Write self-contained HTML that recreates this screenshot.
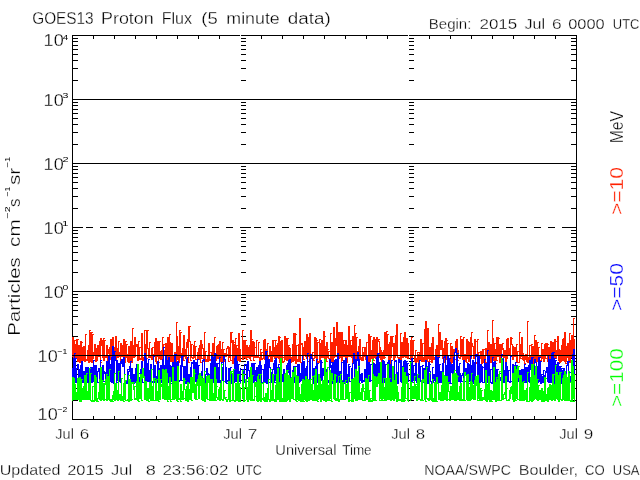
<!DOCTYPE html>
<html><head><meta charset="utf-8"><style>
html,body{margin:0;padding:0;background:#fff;}
.t{stroke:#fff;stroke-width:0.3px;}
svg{display:block;}
text{font-family:"Liberation Sans",sans-serif;}
</style></head><body>
<svg width="640" height="480" viewBox="0 0 640 480">
<rect width="640" height="480" fill="#fff"/>
<path fill="#000" shape-rendering="crispEdges" d="M72 35H577v1H72zM72 419H577v1H72zM72 35h1V420h-1zM576 35h1V420h-1zM73 80H78v1H73zM571 80H576v1H571zM241 80H246v1H241zM409 80H414v1H409zM73 68H78v1H73zM571 68H576v1H571zM241 68H246v1H241zM409 68H414v1H409zM73 60H78v1H73zM571 60H576v1H571zM241 60H246v1H241zM409 60H414v1H409zM73 54H78v1H73zM571 54H576v1H571zM241 54H246v1H241zM409 54H414v1H409zM73 49H78v1H73zM571 49H576v1H571zM241 49H246v1H241zM409 49H414v1H409zM73 45H78v1H73zM571 45H576v1H571zM241 45H246v1H241zM409 45H414v1H409zM73 41H78v1H73zM571 41H576v1H571zM241 41H246v1H241zM409 41H414v1H409zM73 38H78v1H73zM571 38H576v1H571zM241 38H246v1H241zM409 38H414v1H409zM73 144H78v1H73zM571 144H576v1H571zM241 144H246v1H241zM409 144H414v1H409zM73 132H78v1H73zM571 132H576v1H571zM241 132H246v1H241zM409 132H414v1H409zM73 124H78v1H73zM571 124H576v1H571zM241 124H246v1H241zM409 124H414v1H409zM73 118H78v1H73zM571 118H576v1H571zM241 118H246v1H241zM409 118H414v1H409zM73 113H78v1H73zM571 113H576v1H571zM241 113H246v1H241zM409 113H414v1H409zM73 109H78v1H73zM571 109H576v1H571zM241 109H246v1H241zM409 109H414v1H409zM73 105H78v1H73zM571 105H576v1H571zM241 105H246v1H241zM409 105H414v1H409zM73 102H78v1H73zM571 102H576v1H571zM241 102H246v1H241zM409 102H414v1H409zM73 99H83v1H73zM566 99H576v1H566zM241 99H251v1H241zM409 99H419v1H409zM73 208H78v1H73zM571 208H576v1H571zM241 208H246v1H241zM409 208H414v1H409zM73 196H78v1H73zM571 196H576v1H571zM241 196H246v1H241zM409 196H414v1H409zM73 188H78v1H73zM571 188H576v1H571zM241 188H246v1H241zM409 188H414v1H409zM73 182H78v1H73zM571 182H576v1H571zM241 182H246v1H241zM409 182H414v1H409zM73 177H78v1H73zM571 177H576v1H571zM241 177H246v1H241zM409 177H414v1H409zM73 173H78v1H73zM571 173H576v1H571zM241 173H246v1H241zM409 173H414v1H409zM73 169H78v1H73zM571 169H576v1H571zM241 169H246v1H241zM409 169H414v1H409zM73 166H78v1H73zM571 166H576v1H571zM241 166H246v1H241zM409 166H414v1H409zM73 163H83v1H73zM566 163H576v1H566zM241 163H251v1H241zM409 163H419v1H409zM73 272H78v1H73zM571 272H576v1H571zM241 272H246v1H241zM409 272H414v1H409zM73 260H78v1H73zM571 260H576v1H571zM241 260H246v1H241zM409 260H414v1H409zM73 252H78v1H73zM571 252H576v1H571zM241 252H246v1H241zM409 252H414v1H409zM73 246H78v1H73zM571 246H576v1H571zM241 246H246v1H241zM409 246H414v1H409zM73 241H78v1H73zM571 241H576v1H571zM241 241H246v1H241zM409 241H414v1H409zM73 237H78v1H73zM571 237H576v1H571zM241 237H246v1H241zM409 237H414v1H409zM73 233H78v1H73zM571 233H576v1H571zM241 233H246v1H241zM409 233H414v1H409zM73 230H78v1H73zM571 230H576v1H571zM241 230H246v1H241zM409 230H414v1H409zM73 227H83v1H73zM566 227H576v1H566zM241 227H251v1H241zM409 227H419v1H409zM73 336H78v1H73zM571 336H576v1H571zM241 336H246v1H241zM409 336H414v1H409zM73 324H78v1H73zM571 324H576v1H571zM241 324H246v1H241zM409 324H414v1H409zM73 316H78v1H73zM571 316H576v1H571zM241 316H246v1H241zM409 316H414v1H409zM73 310H78v1H73zM571 310H576v1H571zM241 310H246v1H241zM409 310H414v1H409zM73 305H78v1H73zM571 305H576v1H571zM241 305H246v1H241zM409 305H414v1H409zM73 301H78v1H73zM571 301H576v1H571zM241 301H246v1H241zM409 301H414v1H409zM73 297H78v1H73zM571 297H576v1H571zM241 297H246v1H241zM409 297H414v1H409zM73 294H78v1H73zM571 294H576v1H571zM241 294H246v1H241zM409 294H414v1H409zM73 291H83v1H73zM566 291H576v1H566zM241 291H251v1H241zM409 291H419v1H409zM73 400H78v1H73zM571 400H576v1H571zM241 400H246v1H241zM409 400H414v1H409zM73 388H78v1H73zM571 388H576v1H571zM241 388H246v1H241zM409 388H414v1H409zM73 380H78v1H73zM571 380H576v1H571zM241 380H246v1H241zM409 380H414v1H409zM73 374H78v1H73zM571 374H576v1H571zM241 374H246v1H241zM409 374H414v1H409zM73 369H78v1H73zM571 369H576v1H571zM241 369H246v1H241zM409 369H414v1H409zM73 365H78v1H73zM571 365H576v1H571zM241 365H246v1H241zM409 365H414v1H409zM73 361H78v1H73zM571 361H576v1H571zM241 361H246v1H241zM409 361H414v1H409zM73 358H78v1H73zM571 358H576v1H571zM241 358H246v1H241zM409 358H414v1H409zM73 355H83v1H73zM566 355H576v1H566zM241 355H251v1H241zM409 355H419v1H409zM93 36h1V39h-1zM93 416h1V419h-1zM114 36h1V39h-1zM114 416h1V419h-1zM135 36h1V39h-1zM135 416h1V419h-1zM156 36h1V39h-1zM156 416h1V419h-1zM177 36h1V39h-1zM177 416h1V419h-1zM198 36h1V39h-1zM198 416h1V419h-1zM219 36h1V39h-1zM219 416h1V419h-1zM261 36h1V39h-1zM261 416h1V419h-1zM282 36h1V39h-1zM282 416h1V419h-1zM303 36h1V39h-1zM303 416h1V419h-1zM324 36h1V39h-1zM324 416h1V419h-1zM345 36h1V39h-1zM345 416h1V419h-1zM366 36h1V39h-1zM366 416h1V419h-1zM387 36h1V39h-1zM387 416h1V419h-1zM429 36h1V39h-1zM429 416h1V419h-1zM450 36h1V39h-1zM450 416h1V419h-1zM471 36h1V39h-1zM471 416h1V419h-1zM492 36h1V39h-1zM492 416h1V419h-1zM513 36h1V39h-1zM513 416h1V419h-1zM534 36h1V39h-1zM534 416h1V419h-1zM555 36h1V39h-1zM555 416h1V419h-1z"/>
<g shape-rendering="crispEdges">
<path fill="#ff2000" d="M72 337h1v20h-1zM73 337h1v27h-1zM74 340h1v24h-1zM75 340h1v1h-1zM75 344h1v15h-1zM76 339h1v19h-1zM77 339h1v23h-1zM78 339h1v1h-1zM78 345h1v17h-1zM79 345h1v18h-1zM80 341h1v22h-1zM81 341h1v21h-1zM82 342h1v1h-1zM82 347h1v15h-1zM83 346h1v15h-1zM84 346h1v16h-1zM85 334h1v28h-1zM86 334h1v1h-1zM86 359h1v2h-1zM87 350h1v11h-1zM88 345h1v18h-1zM89 330h1v33h-1zM90 330h1v1h-1zM90 332h1v30h-1zM91 332h1v31h-1zM92 332h1v1h-1zM92 334h1v29h-1zM93 334h1v1h-1zM93 352h1v7h-1zM94 344h1v12h-1zM95 344h1v18h-1zM96 348h1v14h-1zM97 345h1v16h-1zM98 345h1v12h-1zM99 341h1v16h-1zM100 338h1v25h-1zM101 338h1v8h-1zM101 362h1v1h-1zM102 340h1v18h-1zM103 338h1v23h-1zM104 338h1v1h-1zM104 340h1v21h-1zM105 340h1v1h-1zM105 356h1v2h-1zM106 345h1v13h-1zM107 345h1v16h-1zM108 349h1v5h-1zM108 360h1v1h-1zM109 347h1v12h-1zM110 339h1v21h-1zM111 339h1v23h-1zM112 337h1v19h-1zM112 361h1v1h-1zM113 337h1v23h-1zM114 347h1v13h-1zM115 336h1v20h-1zM115 359h1v1h-1zM116 336h1v25h-1zM117 348h1v10h-1zM117 360h1v1h-1zM118 341h1v17h-1zM119 341h1v1h-1zM119 352h1v5h-1zM120 343h1v19h-1zM121 343h1v14h-1zM121 361h1v1h-1zM122 345h1v12h-1zM123 339h1v21h-1zM124 339h1v24h-1zM125 341h1v22h-1zM126 341h1v1h-1zM126 344h1v14h-1zM127 344h1v1h-1zM127 354h1v8h-1zM128 346h1v17h-1zM129 346h1v17h-1zM130 341h1v20h-1zM131 341h1v22h-1zM132 328h1v35h-1zM133 328h1v1h-1zM133 345h1v13h-1zM134 337h1v21h-1zM135 337h1v20h-1zM136 344h1v3h-1zM136 355h1v1h-1zM137 344h1v17h-1zM138 341h1v20h-1zM139 341h1v1h-1zM139 347h1v13h-1zM140 347h1v1h-1zM140 358h1v2h-1zM141 333h1v27h-1zM142 333h1v28h-1zM143 357h1v4h-1zM144 330h1v31h-1zM145 330h1v1h-1zM145 344h1v17h-1zM146 330h1v30h-1zM147 330h1v19h-1zM147 358h1v1h-1zM148 330h1v1h-1zM148 348h1v10h-1zM149 342h1v16h-1zM150 342h1v1h-1zM150 355h1v3h-1zM151 348h1v12h-1zM152 347h1v13h-1zM153 347h1v1h-1zM153 354h1v4h-1zM154 342h1v15h-1zM155 338h1v24h-1zM156 338h1v26h-1zM157 341h1v16h-1zM157 363h1v1h-1zM158 341h1v22h-1zM159 341h1v18h-1zM159 362h1v1h-1zM160 341h1v1h-1zM160 351h1v9h-1zM161 350h1v10h-1zM162 337h1v25h-1zM163 337h1v1h-1zM163 344h1v18h-1zM164 344h1v1h-1zM164 350h1v6h-1zM165 343h1v18h-1zM166 343h1v19h-1zM167 337h1v25h-1zM168 337h1v20h-1zM168 360h1v1h-1zM169 334h1v23h-1zM170 334h1v1h-1zM170 342h1v20h-1zM171 343h1v19h-1zM172 343h1v20h-1zM173 356h1v7h-1zM174 352h1v11h-1zM175 352h1v11h-1zM176 322h1v41h-1zM177 322h1v1h-1zM177 336h1v24h-1zM178 346h1v17h-1zM179 330h1v33h-1zM180 330h1v1h-1zM180 332h1v26h-1zM181 332h1v1h-1zM181 353h1v8h-1zM182 348h1v13h-1zM183 335h1v26h-1zM184 335h1v22h-1zM184 360h1v1h-1zM185 349h1v10h-1zM186 342h1v17h-1zM187 339h1v9h-1zM188 326h1v37h-1zM189 326h1v16h-1zM189 362h1v1h-1zM190 326h1v1h-1zM190 341h1v20h-1zM191 344h1v14h-1zM191 360h1v1h-1zM192 344h1v1h-1zM192 357h1v2h-1zM193 345h1v14h-1zM194 341h1v17h-1zM195 341h1v1h-1zM195 346h1v14h-1zM196 346h1v1h-1zM196 359h1v1h-1zM197 352h1v8h-1zM198 348h1v12h-1zM199 345h1v15h-1zM200 340h1v23h-1zM201 340h1v19h-1zM201 362h1v1h-1zM202 344h1v5h-1zM202 358h1v1h-1zM203 348h1v14h-1zM204 332h1v30h-1zM205 332h1v1h-1zM205 351h1v11h-1zM206 351h1v1h-1zM206 359h1v3h-1zM207 356h1v6h-1zM208 343h1v19h-1zM209 343h1v18h-1zM210 352h1v1h-1zM210 359h1v2h-1zM211 352h1v9h-1zM212 343h1v20h-1zM213 343h1v15h-1zM213 362h1v1h-1zM214 337h1v23h-1zM215 337h1v1h-1zM215 353h1v8h-1zM216 346h1v15h-1zM217 345h1v14h-1zM218 344h1v15h-1zM219 341h1v17h-1zM220 341h1v21h-1zM221 349h1v13h-1zM222 342h1v21h-1zM223 342h1v1h-1zM223 349h1v14h-1zM224 349h1v1h-1zM224 353h1v9h-1zM225 353h1v4h-1zM225 361h1v1h-1zM226 348h1v9h-1zM227 346h1v3h-1zM227 354h1v1h-1zM228 346h1v16h-1zM229 347h1v11h-1zM229 361h1v1h-1zM230 332h1v29h-1zM231 332h1v11h-1zM231 360h1v1h-1zM232 332h1v1h-1zM232 340h1v24h-1zM233 340h1v24h-1zM234 342h1v1h-1zM234 344h1v20h-1zM235 338h1v25h-1zM236 338h1v1h-1zM236 345h1v18h-1zM237 345h1v1h-1zM237 348h1v13h-1zM238 333h1v28h-1zM239 333h1v29h-1zM240 349h1v13h-1zM242 330h1v30h-1zM243 330h1v1h-1zM243 340h1v20h-1zM244 340h1v18h-1zM245 340h1v19h-1zM246 340h1v1h-1zM246 345h1v15h-1zM247 345h1v13h-1zM247 359h1v1h-1zM248 347h1v11h-1zM249 345h1v14h-1zM250 330h1v31h-1zM251 330h1v27h-1zM251 360h1v1h-1zM252 339h1v1h-1zM252 341h1v16h-1zM253 341h1v20h-1zM254 342h1v16h-1zM254 360h1v1h-1zM255 347h1v1h-1zM255 355h1v3h-1zM256 340h1v18h-1zM257 340h1v1h-1zM257 356h1v2h-1zM258 342h1v16h-1zM259 342h1v1h-1zM259 357h1v7h-1zM260 349h1v15h-1zM261 349h1v1h-1zM261 352h1v8h-1zM262 352h1v1h-1zM262 358h1v2h-1zM263 340h1v19h-1zM264 339h1v21h-1zM265 339h1v21h-1zM266 349h1v13h-1zM267 343h1v20h-1zM268 343h1v1h-1zM268 356h1v7h-1zM269 346h1v11h-1zM269 359h1v1h-1zM270 346h1v16h-1zM271 351h1v11h-1zM272 340h1v22h-1zM273 340h1v17h-1zM274 340h1v1h-1zM274 347h1v12h-1zM275 340h1v19h-1zM276 340h1v1h-1zM276 345h1v13h-1zM277 343h1v15h-1zM278 336h1v23h-1zM279 336h1v27h-1zM280 337h1v1h-1zM280 341h1v22h-1zM281 340h1v21h-1zM281 362h1v1h-1zM282 340h1v23h-1zM283 357h1v1h-1zM283 361h1v2h-1zM284 336h1v26h-1zM285 336h1v24h-1zM286 338h1v23h-1zM287 338h1v23h-1zM288 338h1v1h-1zM288 345h1v15h-1zM289 345h1v1h-1zM289 347h1v14h-1zM290 348h1v15h-1zM291 357h1v6h-1zM292 344h1v18h-1zM293 333h1v29h-1zM294 333h1v28h-1zM295 333h1v31h-1zM296 334h1v1h-1zM296 345h1v19h-1zM297 345h1v1h-1zM297 359h1v3h-1zM298 344h1v18h-1zM299 318h1v44h-1zM300 318h1v45h-1zM301 343h1v2h-1zM301 362h1v1h-1zM302 343h1v12h-1zM303 347h1v13h-1zM304 341h1v15h-1zM304 359h1v1h-1zM305 341h1v16h-1zM306 334h1v25h-1zM307 334h1v28h-1zM308 337h1v20h-1zM308 361h1v1h-1zM309 333h1v30h-1zM310 333h1v25h-1zM310 362h1v1h-1zM311 356h1v2h-1zM312 352h1v7h-1zM313 352h1v1h-1zM313 358h1v3h-1zM314 337h1v22h-1zM314 360h1v1h-1zM315 337h1v21h-1zM316 338h1v26h-1zM317 340h1v1h-1zM317 342h1v22h-1zM318 342h1v1h-1zM318 361h1v2h-1zM319 339h1v24h-1zM320 339h1v1h-1zM320 343h1v21h-1zM321 340h1v18h-1zM321 363h1v1h-1zM322 340h1v18h-1zM323 331h1v27h-1zM324 331h1v31h-1zM325 336h1v1h-1zM325 346h1v16h-1zM326 342h1v20h-1zM327 342h1v16h-1zM327 361h1v1h-1zM328 349h1v1h-1zM328 351h1v8h-1zM329 351h1v1h-1zM329 358h1v4h-1zM330 333h1v29h-1zM331 333h1v1h-1zM331 342h1v20h-1zM332 342h1v21h-1zM333 327h1v36h-1zM334 327h1v31h-1zM335 338h1v19h-1zM336 322h1v24h-1zM336 356h1v1h-1zM337 322h1v39h-1zM338 332h1v29h-1zM339 332h1v27h-1zM340 332h1v26h-1zM341 332h1v31h-1zM342 332h1v29h-1zM342 362h1v1h-1zM343 340h1v17h-1zM343 360h1v1h-1zM344 340h1v1h-1zM344 344h1v13h-1zM345 340h1v19h-1zM346 340h1v23h-1zM347 345h1v18h-1zM348 326h1v31h-1zM349 326h1v31h-1zM350 340h1v17h-1zM351 340h1v1h-1zM351 345h1v13h-1zM352 336h1v27h-1zM353 336h1v25h-1zM353 362h1v1h-1zM354 325h1v36h-1zM355 325h1v1h-1zM355 333h1v30h-1zM356 333h1v1h-1zM356 337h1v26h-1zM357 337h1v1h-1zM357 351h1v10h-1zM358 346h1v16h-1zM359 339h1v23h-1zM360 339h1v21h-1zM361 357h1v4h-1zM362 347h1v14h-1zM363 347h1v1h-1zM363 352h1v9h-1zM364 347h1v10h-1zM365 347h1v13h-1zM366 342h1v19h-1zM367 342h1v1h-1zM367 360h1v3h-1zM368 334h1v29h-1zM369 334h1v28h-1zM370 336h1v26h-1zM371 336h1v1h-1zM371 350h1v9h-1zM372 340h1v23h-1zM373 337h1v24h-1zM373 362h1v1h-1zM374 337h1v21h-1zM374 360h1v1h-1zM375 339h1v20h-1zM376 337h1v27h-1zM377 337h1v23h-1zM377 363h1v1h-1zM378 339h1v3h-1zM378 359h1v1h-1zM379 339h1v1h-1zM379 341h1v17h-1zM380 347h1v13h-1zM381 350h1v13h-1zM382 352h1v11h-1zM383 350h1v9h-1zM384 332h1v27h-1zM385 332h1v24h-1zM385 357h1v1h-1zM386 331h1v25h-1zM387 331h1v1h-1zM387 334h1v22h-1zM388 334h1v1h-1zM388 344h1v20h-1zM389 342h1v22h-1zM390 336h1v28h-1zM391 336h1v22h-1zM392 336h1v11h-1zM393 336h1v1h-1zM393 343h1v17h-1zM394 343h1v19h-1zM395 335h1v23h-1zM395 361h1v1h-1zM396 324h1v32h-1zM397 324h1v34h-1zM398 357h1v6h-1zM399 357h1v4h-1zM399 362h1v1h-1zM400 333h1v28h-1zM401 333h1v1h-1zM401 342h1v18h-1zM402 342h1v16h-1zM403 337h1v21h-1zM404 332h1v25h-1zM405 332h1v26h-1zM406 338h1v20h-1zM407 338h1v21h-1zM408 343h1v16h-1zM410 340h1v20h-1zM411 337h1v24h-1zM412 337h1v1h-1zM412 340h1v21h-1zM413 340h1v16h-1zM414 340h1v1h-1zM414 355h1v7h-1zM415 350h1v14h-1zM416 350h1v1h-1zM416 358h1v6h-1zM417 352h1v10h-1zM418 352h1v1h-1zM418 354h1v9h-1zM419 352h1v8h-1zM419 362h1v1h-1zM420 339h1v21h-1zM421 339h1v23h-1zM422 343h1v19h-1zM423 343h1v1h-1zM423 357h1v5h-1zM424 329h1v33h-1zM425 321h1v41h-1zM426 321h1v41h-1zM427 328h1v34h-1zM428 328h1v31h-1zM428 361h1v1h-1zM429 347h1v15h-1zM430 347h1v13h-1zM430 361h1v1h-1zM431 343h1v20h-1zM432 337h1v26h-1zM433 337h1v23h-1zM434 357h1v3h-1zM435 349h1v11h-1zM436 345h1v13h-1zM437 345h1v18h-1zM438 324h1v39h-1zM439 324h1v1h-1zM439 332h1v25h-1zM440 332h1v18h-1zM441 340h1v10h-1zM442 340h1v19h-1zM443 348h1v15h-1zM444 341h1v22h-1zM445 338h1v20h-1zM446 338h1v22h-1zM447 340h1v1h-1zM447 343h1v17h-1zM448 343h1v1h-1zM448 355h1v4h-1zM449 355h1v1h-1zM449 358h1v5h-1zM450 343h1v21h-1zM451 343h1v1h-1zM451 346h1v18h-1zM452 346h1v17h-1zM453 349h1v12h-1zM453 362h1v1h-1zM454 349h1v12h-1zM455 341h1v12h-1zM455 359h1v1h-1zM456 339h1v21h-1zM457 339h1v22h-1zM458 350h1v8h-1zM458 360h1v1h-1zM459 357h1v2h-1zM460 336h1v23h-1zM461 336h1v1h-1zM461 339h1v18h-1zM462 339h1v21h-1zM463 337h1v23h-1zM464 337h1v1h-1zM464 354h1v8h-1zM465 354h1v1h-1zM465 356h1v6h-1zM466 339h1v24h-1zM467 339h1v20h-1zM467 362h1v1h-1zM468 341h1v21h-1zM469 342h1v20h-1zM470 337h1v25h-1zM471 332h1v27h-1zM472 332h1v1h-1zM472 343h1v4h-1zM473 346h1v13h-1zM474 339h1v20h-1zM475 339h1v25h-1zM476 341h1v1h-1zM476 362h1v2h-1zM477 339h1v25h-1zM478 339h1v1h-1zM478 352h1v6h-1zM479 352h1v1h-1zM479 356h1v3h-1zM480 351h1v8h-1zM481 351h1v13h-1zM482 349h1v15h-1zM483 349h1v14h-1zM484 349h1v1h-1zM484 355h1v7h-1zM485 348h1v15h-1zM486 348h1v8h-1zM486 362h1v1h-1zM487 330h1v27h-1zM488 330h1v1h-1zM488 342h1v16h-1zM489 342h1v21h-1zM490 344h1v19h-1zM491 344h1v19h-1zM492 320h1v37h-1zM492 361h1v1h-1zM493 320h1v1h-1zM493 338h1v23h-1zM494 343h1v18h-1zM495 343h1v1h-1zM495 349h1v15h-1zM496 337h1v24h-1zM496 363h1v1h-1zM497 337h1v20h-1zM497 360h1v1h-1zM498 337h1v20h-1zM499 338h1v1h-1zM499 344h1v19h-1zM500 344h1v19h-1zM501 344h1v13h-1zM502 343h1v7h-1zM502 356h1v1h-1zM503 343h1v1h-1zM503 348h1v10h-1zM504 350h1v8h-1zM505 350h1v13h-1zM506 339h1v24h-1zM507 338h1v21h-1zM508 338h1v18h-1zM509 348h1v8h-1zM510 337h1v19h-1zM511 337h1v8h-1zM512 338h1v1h-1zM512 344h1v16h-1zM513 346h1v14h-1zM514 347h1v10h-1zM515 347h1v10h-1zM516 344h1v19h-1zM517 344h1v1h-1zM517 351h1v12h-1zM518 351h1v1h-1zM518 362h1v1h-1zM519 332h1v31h-1zM520 332h1v1h-1zM520 344h1v15h-1zM521 337h1v20h-1zM521 358h1v1h-1zM522 337h1v23h-1zM523 353h1v8h-1zM524 356h1v8h-1zM525 354h1v6h-1zM525 363h1v1h-1zM526 354h1v8h-1zM527 321h1v42h-1zM528 321h1v1h-1zM528 357h1v6h-1zM529 345h1v18h-1zM530 345h1v1h-1zM530 356h1v7h-1zM531 344h1v19h-1zM532 344h1v1h-1zM532 346h1v16h-1zM533 346h1v18h-1zM534 335h1v24h-1zM534 363h1v1h-1zM535 335h1v1h-1zM535 340h1v19h-1zM536 340h1v22h-1zM537 342h1v20h-1zM538 342h1v1h-1zM538 347h1v11h-1zM539 347h1v1h-1zM539 356h1v5h-1zM540 356h1v1h-1zM540 360h1v1h-1zM541 343h1v18h-1zM542 343h1v1h-1zM542 349h1v10h-1zM543 349h1v13h-1zM544 344h1v18h-1zM545 343h1v16h-1zM546 343h1v13h-1zM546 358h1v1h-1zM547 343h1v19h-1zM548 344h1v1h-1zM548 347h1v16h-1zM549 347h1v16h-1zM550 341h1v21h-1zM551 341h1v18h-1zM551 361h1v1h-1zM552 342h1v17h-1zM553 342h1v21h-1zM554 339h1v24h-1zM555 339h1v20h-1zM556 341h1v1h-1zM556 350h1v9h-1zM557 336h1v20h-1zM558 336h1v25h-1zM559 349h1v14h-1zM560 350h1v13h-1zM561 345h1v17h-1zM562 339h1v22h-1zM563 338h1v23h-1zM564 332h1v30h-1zM565 332h1v32h-1zM566 346h1v16h-1zM566 363h1v1h-1zM567 343h1v15h-1zM567 361h1v1h-1zM568 343h1v20h-1zM569 333h1v30h-1zM570 333h1v1h-1zM570 340h1v23h-1zM571 335h1v23h-1zM572 335h1v27h-1zM573 318h1v44h-1zM574 318h1v1h-1zM574 339h1v17h-1z"/>
<path fill="#0000ff" d="M72 368h1v14h-1zM73 358h1v24h-1zM74 353h1v29h-1zM75 353h1v1h-1zM75 358h1v25h-1zM76 358h1v1h-1zM76 368h1v15h-1zM77 364h1v5h-1zM77 380h1v1h-1zM78 364h1v19h-1zM79 369h1v14h-1zM80 365h1v18h-1zM81 361h1v20h-1zM82 361h1v22h-1zM83 371h1v12h-1zM84 371h1v12h-1zM85 367h1v16h-1zM86 367h1v16h-1zM87 367h1v16h-1zM88 367h1v16h-1zM89 370h1v1h-1zM89 376h1v8h-1zM90 367h1v17h-1zM91 367h1v16h-1zM92 367h1v16h-1zM93 360h1v22h-1zM94 360h1v1h-1zM94 365h1v14h-1zM95 365h1v18h-1zM96 365h1v18h-1zM97 371h1v12h-1zM98 368h1v4h-1zM98 382h1v1h-1zM99 368h1v13h-1zM100 360h1v23h-1zM101 360h1v1h-1zM101 369h1v14h-1zM102 365h1v17h-1zM103 365h1v17h-1zM104 371h1v3h-1zM104 381h1v1h-1zM105 372h1v9h-1zM106 361h1v20h-1zM107 361h1v20h-1zM108 356h1v25h-1zM109 356h1v26h-1zM110 364h1v18h-1zM111 357h1v26h-1zM112 346h1v37h-1zM113 346h1v38h-1zM114 351h1v33h-1zM115 351h1v1h-1zM115 356h1v5h-1zM116 360h1v23h-1zM117 360h1v21h-1zM117 382h1v1h-1zM118 363h1v19h-1zM119 363h1v19h-1zM120 361h1v22h-1zM121 359h1v5h-1zM121 382h1v1h-1zM122 359h1v8h-1zM123 357h1v10h-1zM124 357h1v26h-1zM125 381h1v2h-1zM126 381h1v3h-1zM127 369h1v15h-1zM128 369h1v1h-1zM128 371h1v11h-1zM129 366h1v6h-1zM129 380h1v1h-1zM130 361h1v23h-1zM131 361h1v1h-1zM131 368h1v16h-1zM132 368h1v16h-1zM133 374h1v10h-1zM134 374h1v10h-1zM135 368h1v15h-1zM136 364h1v19h-1zM137 364h1v20h-1zM138 373h1v11h-1zM139 373h1v1h-1zM139 377h1v7h-1zM140 369h1v15h-1zM141 361h1v23h-1zM142 361h1v22h-1zM143 369h1v6h-1zM143 382h1v1h-1zM144 353h1v30h-1zM145 353h1v30h-1zM146 358h1v24h-1zM147 363h1v19h-1zM148 359h1v23h-1zM149 359h1v1h-1zM149 370h1v12h-1zM150 364h1v18h-1zM151 364h1v19h-1zM152 381h1v2h-1zM153 356h1v27h-1zM154 356h1v1h-1zM154 365h1v18h-1zM155 365h1v18h-1zM156 376h1v7h-1zM157 361h1v22h-1zM158 361h1v23h-1zM159 368h1v14h-1zM159 383h1v1h-1zM160 365h1v18h-1zM161 365h1v18h-1zM162 359h1v24h-1zM163 347h1v36h-1zM164 347h1v1h-1zM164 365h1v18h-1zM165 356h1v26h-1zM166 356h1v28h-1zM167 360h1v24h-1zM168 357h1v26h-1zM169 357h1v26h-1zM170 365h1v19h-1zM171 366h1v16h-1zM171 383h1v1h-1zM172 362h1v20h-1zM173 362h1v22h-1zM174 354h1v30h-1zM175 354h1v28h-1zM176 354h1v1h-1zM176 362h1v20h-1zM177 361h1v8h-1zM178 361h1v21h-1zM179 380h1v2h-1zM180 365h1v16h-1zM181 356h1v25h-1zM182 356h1v11h-1zM182 380h1v1h-1zM183 356h1v1h-1zM183 366h1v17h-1zM184 366h1v17h-1zM185 366h1v18h-1zM186 359h1v25h-1zM187 357h1v27h-1zM188 357h1v1h-1zM188 374h1v10h-1zM189 374h1v9h-1zM190 367h1v15h-1zM191 362h1v22h-1zM192 362h1v2h-1zM192 383h1v1h-1zM193 360h1v22h-1zM194 360h1v22h-1zM195 362h1v20h-1zM196 362h1v21h-1zM197 359h1v25h-1zM198 359h1v1h-1zM198 365h1v19h-1zM199 365h1v1h-1zM199 380h1v3h-1zM200 373h1v10h-1zM201 371h1v11h-1zM202 360h1v23h-1zM203 359h1v2h-1zM203 382h1v1h-1zM204 359h1v24h-1zM205 374h1v9h-1zM206 368h1v7h-1zM206 381h1v1h-1zM207 368h1v14h-1zM208 373h1v10h-1zM209 374h1v9h-1zM210 363h1v19h-1zM211 355h1v27h-1zM212 355h1v28h-1zM213 357h1v26h-1zM214 353h1v30h-1zM215 353h1v30h-1zM216 354h1v1h-1zM216 363h1v20h-1zM217 363h1v20h-1zM218 363h1v1h-1zM218 367h1v16h-1zM219 357h1v26h-1zM220 357h1v1h-1zM220 380h1v3h-1zM221 362h1v21h-1zM222 362h1v1h-1zM222 367h1v14h-1zM223 355h1v27h-1zM224 355h1v5h-1zM224 381h1v1h-1zM225 355h1v1h-1zM225 359h1v24h-1zM226 367h1v17h-1zM227 380h1v2h-1zM227 383h1v1h-1zM228 368h1v14h-1zM229 368h1v14h-1zM230 367h1v17h-1zM231 367h1v1h-1zM231 374h1v10h-1zM232 374h1v10h-1zM233 374h1v9h-1zM234 358h1v25h-1zM235 356h1v26h-1zM236 356h1v26h-1zM237 361h1v21h-1zM238 364h1v18h-1zM239 364h1v1h-1zM239 371h1v11h-1zM240 368h1v16h-1zM242 369h1v14h-1zM243 369h1v14h-1zM244 364h1v19h-1zM245 364h1v1h-1zM245 380h1v1h-1zM246 364h1v18h-1zM247 361h1v18h-1zM247 381h1v1h-1zM248 361h1v10h-1zM249 370h1v13h-1zM250 372h1v1h-1zM250 380h1v4h-1zM251 363h1v18h-1zM251 383h1v1h-1zM252 363h1v20h-1zM253 363h1v20h-1zM254 363h1v19h-1zM255 363h1v1h-1zM255 370h1v11h-1zM256 367h1v15h-1zM257 367h1v15h-1zM258 365h1v18h-1zM259 361h1v22h-1zM260 361h1v22h-1zM261 365h1v18h-1zM262 369h1v1h-1zM262 382h1v2h-1zM263 369h1v15h-1zM264 364h1v19h-1zM265 351h1v32h-1zM266 351h1v33h-1zM267 351h1v1h-1zM267 355h1v29h-1zM268 355h1v1h-1zM268 359h1v24h-1zM269 359h1v9h-1zM269 382h1v1h-1zM270 367h1v16h-1zM271 372h1v11h-1zM272 369h1v13h-1zM273 363h1v7h-1zM273 380h1v1h-1zM274 360h1v23h-1zM275 358h1v23h-1zM275 382h1v1h-1zM276 358h1v24h-1zM277 367h1v15h-1zM278 364h1v20h-1zM279 364h1v1h-1zM279 367h1v17h-1zM280 367h1v1h-1zM280 380h1v1h-1zM281 374h1v8h-1zM282 374h1v8h-1zM283 369h1v13h-1zM284 369h1v14h-1zM285 377h1v6h-1zM286 365h1v16h-1zM286 382h1v1h-1zM287 363h1v18h-1zM288 360h1v13h-1zM288 380h1v1h-1zM289 359h1v25h-1zM290 359h1v23h-1zM290 383h1v1h-1zM291 381h1v3h-1zM292 370h1v14h-1zM293 366h1v17h-1zM294 366h1v17h-1zM295 366h1v16h-1zM296 366h1v1h-1zM296 381h1v1h-1zM297 364h1v18h-1zM298 364h1v19h-1zM299 364h1v19h-1zM300 373h1v9h-1zM301 363h1v18h-1zM302 355h1v27h-1zM303 355h1v1h-1zM303 361h1v22h-1zM304 361h1v22h-1zM305 368h1v16h-1zM306 366h1v18h-1zM307 353h1v30h-1zM308 353h1v1h-1zM308 382h1v2h-1zM309 359h1v25h-1zM310 354h1v28h-1zM311 354h1v5h-1zM312 358h1v23h-1zM313 368h1v16h-1zM314 368h1v14h-1zM314 383h1v1h-1zM315 366h1v16h-1zM316 359h1v24h-1zM317 359h1v1h-1zM317 363h1v20h-1zM318 363h1v1h-1zM318 382h1v1h-1zM319 380h1v3h-1zM320 360h1v22h-1zM321 360h1v21h-1zM322 362h1v1h-1zM322 368h1v13h-1zM323 368h1v8h-1zM323 380h1v1h-1zM324 366h1v17h-1zM325 366h1v17h-1zM326 369h1v13h-1zM327 369h1v1h-1zM327 380h1v3h-1zM328 380h1v3h-1zM329 359h1v22h-1zM329 382h1v1h-1zM330 359h1v9h-1zM330 380h1v1h-1zM331 362h1v1h-1zM331 365h1v19h-1zM332 362h1v22h-1zM333 362h1v20h-1zM334 360h1v24h-1zM335 359h1v25h-1zM336 359h1v24h-1zM337 353h1v30h-1zM338 353h1v30h-1zM339 371h1v12h-1zM340 371h1v12h-1zM341 362h1v21h-1zM342 362h1v1h-1zM342 381h1v2h-1zM343 360h1v22h-1zM344 360h1v24h-1zM345 358h1v26h-1zM346 358h1v25h-1zM347 374h1v9h-1zM348 364h1v19h-1zM349 364h1v1h-1zM349 366h1v16h-1zM350 366h1v1h-1zM350 381h1v1h-1zM351 368h1v14h-1zM352 363h1v20h-1zM353 353h1v11h-1zM353 382h1v1h-1zM354 353h1v30h-1zM355 359h1v24h-1zM356 359h1v23h-1zM357 352h1v9h-1zM357 381h1v1h-1zM358 352h1v29h-1zM359 359h1v25h-1zM360 374h1v7h-1zM360 383h1v1h-1zM361 373h1v10h-1zM362 373h1v10h-1zM363 380h1v2h-1zM364 369h1v13h-1zM365 369h1v13h-1zM366 355h1v28h-1zM367 355h1v26h-1zM367 382h1v1h-1zM368 362h1v19h-1zM369 362h1v20h-1zM370 364h1v18h-1zM371 364h1v1h-1zM371 380h1v1h-1zM372 380h1v2h-1zM373 363h1v19h-1zM374 363h1v19h-1zM375 364h1v20h-1zM376 357h1v27h-1zM377 353h1v28h-1zM377 383h1v1h-1zM378 353h1v30h-1zM379 353h1v1h-1zM379 362h1v21h-1zM380 362h1v1h-1zM380 365h1v19h-1zM381 365h1v1h-1zM381 368h1v16h-1zM382 360h1v24h-1zM383 360h1v24h-1zM384 361h1v22h-1zM385 364h1v20h-1zM386 364h1v1h-1zM386 381h1v3h-1zM387 362h1v22h-1zM388 360h1v23h-1zM389 360h1v24h-1zM390 364h1v20h-1zM391 360h1v24h-1zM392 360h1v1h-1zM392 380h1v4h-1zM393 380h1v4h-1zM394 361h1v21h-1zM394 383h1v1h-1zM395 360h1v2h-1zM395 381h1v1h-1zM396 360h1v23h-1zM397 372h1v12h-1zM398 359h1v25h-1zM399 359h1v4h-1zM400 360h1v22h-1zM401 360h1v23h-1zM402 366h1v17h-1zM403 361h1v22h-1zM404 360h1v22h-1zM405 360h1v24h-1zM406 361h1v23h-1zM407 361h1v1h-1zM407 363h1v20h-1zM408 363h1v1h-1zM408 373h1v9h-1zM410 363h1v21h-1zM411 358h1v25h-1zM412 358h1v25h-1zM413 365h1v16h-1zM413 382h1v1h-1zM414 365h1v1h-1zM414 373h1v8h-1zM415 363h1v18h-1zM416 363h1v20h-1zM417 381h1v2h-1zM418 363h1v20h-1zM419 360h1v23h-1zM420 360h1v1h-1zM420 366h1v16h-1zM421 366h1v1h-1zM421 380h1v2h-1zM422 365h1v18h-1zM423 365h1v1h-1zM423 368h1v15h-1zM424 368h1v15h-1zM425 360h1v21h-1zM425 382h1v1h-1zM426 360h1v21h-1zM427 366h1v18h-1zM428 362h1v22h-1zM429 362h1v10h-1zM430 364h1v1h-1zM430 371h1v11h-1zM431 381h1v3h-1zM432 367h1v17h-1zM433 367h1v1h-1zM433 374h1v9h-1zM434 374h1v7h-1zM435 356h1v26h-1zM436 356h1v27h-1zM437 357h1v26h-1zM438 357h1v26h-1zM439 357h1v1h-1zM439 364h1v19h-1zM440 364h1v1h-1zM440 371h1v12h-1zM441 371h1v12h-1zM442 363h1v20h-1zM443 357h1v24h-1zM444 356h1v2h-1zM444 380h1v1h-1zM445 356h1v26h-1zM446 365h1v19h-1zM447 355h1v29h-1zM448 355h1v29h-1zM449 355h1v1h-1zM449 358h1v26h-1zM450 358h1v1h-1zM450 362h1v22h-1zM451 364h1v9h-1zM451 383h1v1h-1zM452 364h1v17h-1zM453 357h1v26h-1zM454 352h1v31h-1zM455 348h1v5h-1zM455 382h1v1h-1zM456 348h1v35h-1zM457 353h1v30h-1zM458 353h1v1h-1zM458 366h1v16h-1zM459 363h1v19h-1zM460 363h1v1h-1zM460 373h1v11h-1zM461 375h1v7h-1zM461 383h1v1h-1zM462 373h1v3h-1zM462 381h1v1h-1zM463 360h1v23h-1zM464 360h1v23h-1zM465 368h1v6h-1zM465 381h1v1h-1zM466 368h1v15h-1zM467 363h1v18h-1zM467 382h1v1h-1zM468 363h1v21h-1zM469 364h1v18h-1zM469 383h1v1h-1zM470 356h1v26h-1zM471 356h1v1h-1zM471 365h1v18h-1zM472 360h1v23h-1zM473 360h1v24h-1zM474 362h1v22h-1zM475 354h1v30h-1zM476 354h1v3h-1zM476 383h1v1h-1zM477 354h1v1h-1zM477 356h1v26h-1zM478 356h1v26h-1zM479 356h1v27h-1zM480 364h1v19h-1zM481 364h1v18h-1zM482 366h1v17h-1zM483 367h1v1h-1zM483 382h1v1h-1zM484 359h1v24h-1zM485 359h1v1h-1zM485 363h1v20h-1zM486 363h1v20h-1zM487 350h1v33h-1zM488 350h1v1h-1zM488 356h1v27h-1zM489 356h1v26h-1zM490 369h1v14h-1zM491 369h1v1h-1zM491 382h1v2h-1zM492 357h1v27h-1zM493 357h1v1h-1zM493 362h1v22h-1zM494 361h1v20h-1zM495 361h1v22h-1zM496 369h1v14h-1zM497 369h1v10h-1zM497 382h1v1h-1zM498 369h1v1h-1zM498 378h1v6h-1zM499 373h1v11h-1zM500 373h1v1h-1zM500 377h1v4h-1zM501 354h1v28h-1zM502 354h1v1h-1zM502 358h1v25h-1zM503 358h1v25h-1zM504 370h1v13h-1zM505 362h1v21h-1zM506 362h1v19h-1zM507 366h1v16h-1zM508 370h1v12h-1zM509 370h1v1h-1zM509 381h1v2h-1zM510 356h1v27h-1zM511 356h1v1h-1zM511 381h1v1h-1zM512 364h1v20h-1zM513 364h1v20h-1zM514 365h1v17h-1zM515 362h1v20h-1zM516 362h1v1h-1zM516 365h1v17h-1zM517 365h1v1h-1zM517 368h1v14h-1zM518 368h1v1h-1zM518 372h1v10h-1zM519 370h1v14h-1zM520 370h1v12h-1zM520 383h1v1h-1zM521 369h1v13h-1zM522 369h1v13h-1zM523 369h1v13h-1zM524 364h1v19h-1zM525 364h1v1h-1zM525 367h1v16h-1zM526 367h1v16h-1zM527 367h1v16h-1zM528 365h1v17h-1zM529 360h1v23h-1zM530 360h1v10h-1zM530 382h1v1h-1zM531 357h1v26h-1zM532 357h1v26h-1zM533 357h1v1h-1zM533 381h1v3h-1zM534 359h1v23h-1zM534 383h1v1h-1zM535 359h1v4h-1zM536 362h1v22h-1zM537 366h1v18h-1zM538 357h1v26h-1zM539 357h1v25h-1zM540 357h1v1h-1zM540 361h1v23h-1zM541 361h1v1h-1zM541 374h1v10h-1zM542 374h1v1h-1zM542 376h1v7h-1zM543 370h1v13h-1zM544 370h1v1h-1zM544 375h1v8h-1zM545 371h1v12h-1zM546 367h1v6h-1zM547 367h1v15h-1zM548 355h1v28h-1zM549 355h1v1h-1zM549 359h1v24h-1zM550 359h1v24h-1zM551 353h1v30h-1zM552 352h1v31h-1zM553 352h1v32h-1zM554 352h1v1h-1zM554 358h1v26h-1zM555 358h1v1h-1zM555 360h1v23h-1zM556 360h1v1h-1zM556 364h1v19h-1zM557 362h1v20h-1zM558 362h1v20h-1zM559 363h1v1h-1zM559 366h1v17h-1zM560 366h1v15h-1zM560 382h1v1h-1zM561 366h1v1h-1zM561 368h1v16h-1zM562 368h1v1h-1zM562 370h1v14h-1zM563 368h1v16h-1zM564 368h1v15h-1zM565 374h1v9h-1zM566 365h1v17h-1zM567 361h1v5h-1zM567 381h1v1h-1zM568 361h1v23h-1zM569 361h1v1h-1zM569 372h1v12h-1zM570 372h1v1h-1zM570 376h1v6h-1zM571 364h1v18h-1zM572 354h1v28h-1zM573 349h1v33h-1zM574 349h1v33h-1z"/>
<path fill="#00ff00" d="M72 377h1v24h-1zM73 377h1v23h-1zM74 378h1v22h-1zM75 384h1v16h-1zM76 392h1v8h-1zM77 378h1v22h-1zM78 378h1v22h-1zM79 377h1v25h-1zM80 377h1v25h-1zM81 379h1v23h-1zM82 379h1v1h-1zM82 388h1v12h-1zM83 386h1v14h-1zM84 375h1v25h-1zM85 375h1v25h-1zM86 373h1v27h-1zM87 373h1v1h-1zM87 391h1v9h-1zM88 383h1v17h-1zM89 368h1v32h-1zM90 368h1v1h-1zM90 373h1v28h-1zM91 373h1v1h-1zM91 400h1v2h-1zM92 386h1v16h-1zM93 386h1v1h-1zM93 400h1v2h-1zM94 375h1v27h-1zM95 375h1v26h-1zM96 377h1v25h-1zM97 398h1v4h-1zM98 392h1v7h-1zM98 401h1v1h-1zM99 379h1v21h-1zM100 367h1v34h-1zM101 367h1v34h-1zM102 380h1v20h-1zM103 380h1v1h-1zM103 383h1v18h-1zM104 383h1v18h-1zM105 379h1v6h-1zM105 399h1v1h-1zM106 374h1v27h-1zM107 374h1v1h-1zM107 376h1v25h-1zM108 376h1v24h-1zM109 369h1v32h-1zM110 369h1v1h-1zM110 399h1v3h-1zM111 399h1v3h-1zM112 395h1v7h-1zM113 391h1v9h-1zM113 401h1v1h-1zM114 373h1v28h-1zM115 373h1v1h-1zM115 383h1v18h-1zM116 383h1v17h-1zM117 390h1v11h-1zM118 371h1v30h-1zM119 371h1v1h-1zM119 394h1v6h-1zM120 394h1v7h-1zM121 378h1v23h-1zM122 378h1v1h-1zM122 396h1v5h-1zM123 383h1v19h-1zM124 374h1v26h-1zM124 401h1v1h-1zM125 374h1v1h-1zM125 380h1v21h-1zM126 380h1v1h-1zM126 400h1v1h-1zM127 399h1v2h-1zM128 375h1v27h-1zM129 375h1v1h-1zM129 379h1v23h-1zM130 379h1v22h-1zM131 382h1v19h-1zM132 382h1v2h-1zM132 399h1v1h-1zM133 382h1v8h-1zM134 382h1v1h-1zM134 386h1v14h-1zM135 386h1v1h-1zM135 398h1v2h-1zM136 381h1v19h-1zM137 364h1v37h-1zM138 364h1v38h-1zM139 382h1v17h-1zM139 401h1v1h-1zM140 374h1v25h-1zM141 374h1v27h-1zM142 368h1v11h-1zM142 400h1v1h-1zM143 368h1v10h-1zM144 376h1v24h-1zM145 381h1v19h-1zM146 381h1v20h-1zM147 388h1v13h-1zM148 388h1v14h-1zM149 382h1v17h-1zM149 401h1v1h-1zM150 382h1v19h-1zM151 369h1v32h-1zM152 369h1v1h-1zM152 386h1v15h-1zM153 378h1v23h-1zM154 378h1v3h-1zM154 400h1v1h-1zM155 378h1v1h-1zM155 380h1v21h-1zM156 379h1v22h-1zM157 379h1v1h-1zM157 391h1v10h-1zM158 370h1v32h-1zM159 370h1v30h-1zM159 401h1v1h-1zM160 379h1v21h-1zM161 379h1v1h-1zM161 384h1v3h-1zM162 369h1v30h-1zM163 369h1v30h-1zM164 370h1v30h-1zM165 369h1v31h-1zM166 369h1v31h-1zM167 373h1v29h-1zM168 386h1v14h-1zM168 401h1v1h-1zM169 377h1v23h-1zM170 377h1v25h-1zM171 399h1v1h-1zM171 401h1v1h-1zM172 367h1v33h-1zM173 367h1v33h-1zM174 381h1v19h-1zM175 381h1v18h-1zM176 381h1v20h-1zM177 366h1v36h-1zM178 366h1v34h-1zM178 401h1v1h-1zM179 398h1v2h-1zM180 384h1v18h-1zM181 384h1v16h-1zM181 401h1v1h-1zM182 391h1v9h-1zM183 378h1v22h-1zM184 378h1v12h-1zM184 398h1v1h-1zM185 380h1v1h-1zM185 389h1v12h-1zM186 386h1v15h-1zM187 382h1v20h-1zM188 382h1v20h-1zM189 383h1v1h-1zM189 389h1v11h-1zM190 377h1v23h-1zM191 377h1v24h-1zM192 377h1v16h-1zM192 400h1v1h-1zM193 369h1v24h-1zM194 369h1v30h-1zM195 373h1v1h-1zM195 384h1v16h-1zM196 382h1v18h-1zM197 379h1v7h-1zM197 399h1v1h-1zM198 375h1v24h-1zM199 373h1v26h-1zM200 373h1v13h-1zM201 376h1v24h-1zM202 376h1v1h-1zM202 378h1v23h-1zM203 378h1v23h-1zM204 371h1v31h-1zM205 371h1v1h-1zM205 383h1v19h-1zM206 376h1v23h-1zM207 376h1v24h-1zM208 375h1v8h-1zM208 399h1v1h-1zM209 375h1v26h-1zM210 379h1v22h-1zM211 379h1v22h-1zM212 379h1v22h-1zM213 393h1v8h-1zM214 367h1v34h-1zM215 367h1v34h-1zM216 379h1v19h-1zM216 400h1v1h-1zM217 386h1v1h-1zM217 397h1v3h-1zM218 389h1v11h-1zM219 387h1v14h-1zM220 383h1v18h-1zM221 364h1v36h-1zM222 364h1v1h-1zM222 399h1v2h-1zM223 381h1v20h-1zM224 381h1v1h-1zM224 390h1v9h-1zM225 390h1v1h-1zM225 397h1v3h-1zM226 397h1v1h-1zM226 399h1v3h-1zM227 399h1v3h-1zM228 381h1v19h-1zM229 381h1v21h-1zM230 371h1v31h-1zM231 371h1v3h-1zM231 400h1v1h-1zM232 371h1v1h-1zM232 373h1v28h-1zM233 369h1v32h-1zM234 369h1v1h-1zM234 400h1v2h-1zM235 383h1v19h-1zM236 383h1v18h-1zM237 374h1v27h-1zM238 374h1v28h-1zM239 374h1v1h-1zM239 383h1v19h-1zM240 383h1v1h-1zM240 387h1v15h-1zM242 370h1v29h-1zM243 370h1v1h-1zM243 374h1v28h-1zM244 374h1v1h-1zM244 387h1v15h-1zM245 379h1v9h-1zM245 400h1v1h-1zM246 379h1v21h-1zM247 387h1v15h-1zM248 377h1v25h-1zM249 377h1v23h-1zM250 367h1v34h-1zM251 367h1v34h-1zM252 375h1v26h-1zM253 375h1v1h-1zM253 399h1v2h-1zM254 382h1v19h-1zM255 382h1v5h-1zM255 396h1v1h-1zM256 382h1v19h-1zM257 376h1v26h-1zM258 374h1v28h-1zM259 374h1v1h-1zM259 379h1v22h-1zM260 374h1v28h-1zM261 374h1v1h-1zM261 383h1v19h-1zM262 383h1v1h-1zM262 398h1v2h-1zM263 382h1v19h-1zM264 382h1v1h-1zM264 397h1v5h-1zM265 393h1v9h-1zM266 393h1v9h-1zM267 388h1v14h-1zM268 379h1v21h-1zM269 379h1v1h-1zM269 399h1v3h-1zM270 369h1v33h-1zM271 369h1v1h-1zM271 390h1v11h-1zM272 374h1v27h-1zM273 374h1v27h-1zM274 374h1v1h-1zM274 399h1v3h-1zM275 385h1v17h-1zM276 374h1v28h-1zM277 368h1v32h-1zM278 368h1v32h-1zM279 382h1v20h-1zM280 358h1v44h-1zM281 358h1v44h-1zM282 398h1v4h-1zM283 382h1v20h-1zM284 374h1v28h-1zM285 373h1v29h-1zM286 370h1v32h-1zM287 370h1v31h-1zM288 370h1v1h-1zM288 375h1v25h-1zM289 375h1v27h-1zM290 378h1v24h-1zM291 377h1v22h-1zM292 372h1v27h-1zM293 372h1v28h-1zM294 367h1v10h-1zM294 399h1v1h-1zM295 367h1v34h-1zM296 375h1v27h-1zM297 376h1v24h-1zM297 401h1v1h-1zM298 376h1v25h-1zM299 387h1v14h-1zM300 394h1v8h-1zM301 384h1v18h-1zM302 379h1v23h-1zM303 379h1v23h-1zM304 380h1v20h-1zM304 401h1v1h-1zM305 376h1v25h-1zM306 376h1v26h-1zM307 379h1v23h-1zM308 379h1v22h-1zM309 380h1v21h-1zM310 379h1v21h-1zM311 379h1v1h-1zM311 384h1v16h-1zM312 376h1v25h-1zM313 376h1v1h-1zM313 390h1v11h-1zM314 375h1v26h-1zM315 369h1v32h-1zM316 369h1v32h-1zM317 385h1v17h-1zM318 374h1v26h-1zM318 401h1v1h-1zM319 374h1v25h-1zM320 378h1v24h-1zM321 384h1v18h-1zM322 380h1v20h-1zM323 380h1v21h-1zM324 359h1v42h-1zM325 359h1v43h-1zM326 372h1v30h-1zM327 367h1v34h-1zM328 367h1v1h-1zM328 385h1v16h-1zM329 370h1v31h-1zM330 370h1v29h-1zM330 400h1v1h-1zM331 373h1v29h-1zM332 373h1v8h-1zM332 401h1v1h-1zM333 380h1v19h-1zM334 374h1v26h-1zM335 374h1v27h-1zM336 375h1v1h-1zM336 398h1v3h-1zM337 382h1v19h-1zM338 376h1v26h-1zM339 376h1v1h-1zM339 399h1v3h-1zM340 374h1v26h-1zM341 374h1v1h-1zM341 380h1v20h-1zM342 380h1v1h-1zM342 382h1v18h-1zM343 382h1v18h-1zM344 382h1v1h-1zM344 399h1v1h-1zM345 380h1v20h-1zM346 380h1v1h-1zM346 384h1v15h-1zM347 383h1v16h-1zM348 377h1v25h-1zM349 377h1v1h-1zM349 392h1v10h-1zM350 392h1v1h-1zM350 400h1v1h-1zM351 379h1v23h-1zM352 379h1v23h-1zM353 378h1v24h-1zM354 377h1v22h-1zM355 369h1v32h-1zM356 369h1v32h-1zM357 371h1v30h-1zM358 366h1v34h-1zM359 366h1v1h-1zM359 383h1v17h-1zM360 383h1v1h-1zM360 392h1v8h-1zM361 388h1v12h-1zM362 384h1v17h-1zM363 384h1v8h-1zM363 400h1v1h-1zM364 388h1v1h-1zM364 391h1v10h-1zM365 378h1v23h-1zM366 378h1v22h-1zM367 379h1v21h-1zM368 375h1v27h-1zM369 375h1v1h-1zM369 390h1v12h-1zM370 390h1v1h-1zM370 398h1v4h-1zM371 398h1v1h-1zM371 400h1v2h-1zM372 359h1v43h-1zM373 359h1v1h-1zM373 374h1v27h-1zM374 376h1v25h-1zM375 376h1v25h-1zM376 377h1v10h-1zM376 400h1v1h-1zM377 376h1v11h-1zM378 373h1v11h-1zM379 373h1v28h-1zM380 362h1v37h-1zM380 400h1v1h-1zM381 362h1v39h-1zM382 383h1v18h-1zM383 378h1v21h-1zM383 400h1v1h-1zM384 378h1v1h-1zM384 387h1v14h-1zM385 378h1v23h-1zM386 378h1v23h-1zM387 364h1v36h-1zM388 364h1v36h-1zM389 378h1v22h-1zM390 378h1v1h-1zM390 382h1v19h-1zM391 382h1v19h-1zM392 366h1v34h-1zM393 366h1v35h-1zM394 380h1v21h-1zM395 374h1v25h-1zM396 374h1v28h-1zM397 386h1v16h-1zM398 392h1v9h-1zM399 399h1v2h-1zM400 399h1v2h-1zM401 387h1v15h-1zM402 367h1v35h-1zM403 367h1v35h-1zM404 372h1v30h-1zM405 372h1v27h-1zM405 400h1v1h-1zM406 376h1v8h-1zM406 398h1v1h-1zM407 376h1v25h-1zM408 383h1v19h-1zM410 362h1v39h-1zM411 362h1v1h-1zM411 382h1v18h-1zM412 382h1v1h-1zM412 386h1v13h-1zM413 386h1v13h-1zM414 376h1v23h-1zM415 376h1v1h-1zM415 384h1v15h-1zM416 384h1v1h-1zM416 386h1v15h-1zM417 374h1v27h-1zM418 374h1v1h-1zM418 378h1v22h-1zM419 378h1v22h-1zM420 399h1v2h-1zM421 380h1v21h-1zM422 379h1v22h-1zM423 379h1v3h-1zM423 400h1v1h-1zM424 370h1v30h-1zM425 370h1v32h-1zM426 367h1v32h-1zM426 401h1v1h-1zM427 367h1v1h-1zM427 398h1v2h-1zM428 398h1v3h-1zM429 373h1v28h-1zM430 373h1v1h-1zM430 384h1v16h-1zM431 384h1v17h-1zM432 379h1v23h-1zM433 379h1v1h-1zM433 398h1v4h-1zM434 382h1v20h-1zM435 382h1v20h-1zM436 377h1v25h-1zM437 377h1v7h-1zM437 401h1v1h-1zM438 383h1v17h-1zM439 392h1v8h-1zM440 392h1v9h-1zM441 385h1v16h-1zM442 372h1v29h-1zM443 372h1v29h-1zM444 375h1v25h-1zM445 376h1v24h-1zM446 376h1v25h-1zM447 376h1v25h-1zM448 382h1v10h-1zM448 399h1v1h-1zM449 382h1v1h-1zM449 391h1v10h-1zM450 386h1v15h-1zM451 386h1v14h-1zM452 374h1v26h-1zM453 373h1v27h-1zM454 370h1v31h-1zM455 370h1v1h-1zM455 373h1v28h-1zM456 373h1v28h-1zM457 375h1v25h-1zM458 376h1v1h-1zM458 392h1v8h-1zM459 386h1v15h-1zM460 383h1v18h-1zM461 383h1v18h-1zM462 399h1v2h-1zM463 378h1v23h-1zM464 372h1v29h-1zM465 372h1v4h-1zM465 400h1v1h-1zM466 375h1v25h-1zM467 374h1v27h-1zM468 374h1v27h-1zM469 387h1v14h-1zM470 381h1v20h-1zM471 373h1v27h-1zM472 373h1v1h-1zM472 382h1v17h-1zM473 385h1v15h-1zM474 380h1v20h-1zM475 376h1v24h-1zM476 376h1v10h-1zM477 375h1v26h-1zM478 375h1v24h-1zM478 400h1v1h-1zM479 383h1v18h-1zM480 388h1v13h-1zM481 388h1v1h-1zM481 390h1v11h-1zM482 390h1v1h-1zM482 397h1v4h-1zM483 397h1v3h-1zM484 389h1v11h-1zM485 370h1v31h-1zM486 370h1v32h-1zM487 384h1v18h-1zM488 376h1v24h-1zM489 376h1v26h-1zM490 390h1v12h-1zM491 390h1v12h-1zM492 391h1v9h-1zM492 401h1v1h-1zM493 367h1v33h-1zM494 367h1v33h-1zM495 382h1v20h-1zM496 377h1v25h-1zM497 377h1v1h-1zM497 379h1v22h-1zM498 374h1v27h-1zM499 371h1v30h-1zM500 371h1v1h-1zM500 400h1v1h-1zM501 358h1v43h-1zM502 358h1v1h-1zM502 360h1v40h-1zM503 394h1v6h-1zM504 392h1v3h-1zM504 398h1v1h-1zM505 376h1v23h-1zM506 376h1v25h-1zM507 388h1v1h-1zM507 400h1v1h-1zM508 399h1v2h-1zM509 390h1v11h-1zM510 387h1v12h-1zM511 386h1v8h-1zM512 373h1v27h-1zM513 373h1v29h-1zM514 366h1v36h-1zM515 366h1v35h-1zM516 369h1v30h-1zM516 400h1v1h-1zM517 366h1v34h-1zM518 366h1v12h-1zM518 399h1v1h-1zM519 366h1v1h-1zM519 375h1v26h-1zM520 375h1v26h-1zM521 375h1v26h-1zM522 382h1v19h-1zM523 381h1v20h-1zM524 381h1v1h-1zM524 390h1v11h-1zM525 390h1v10h-1zM526 388h1v14h-1zM527 372h1v30h-1zM528 372h1v1h-1zM528 401h1v1h-1zM529 387h1v15h-1zM530 377h1v24h-1zM531 364h1v38h-1zM532 364h1v38h-1zM533 364h1v37h-1zM534 364h1v1h-1zM534 375h1v25h-1zM535 366h1v33h-1zM536 366h1v34h-1zM537 379h1v22h-1zM538 379h1v1h-1zM538 385h1v16h-1zM539 385h1v1h-1zM539 390h1v10h-1zM540 390h1v10h-1zM541 388h1v14h-1zM542 388h1v14h-1zM543 391h1v11h-1zM544 377h1v25h-1zM545 377h1v24h-1zM546 378h1v1h-1zM546 394h1v7h-1zM547 388h1v14h-1zM548 387h1v15h-1zM549 384h1v16h-1zM550 384h1v16h-1zM551 385h1v16h-1zM552 374h1v27h-1zM553 374h1v26h-1zM554 374h1v1h-1zM554 384h1v17h-1zM555 365h1v36h-1zM556 365h1v1h-1zM556 372h1v27h-1zM557 372h1v28h-1zM558 375h1v27h-1zM559 372h1v30h-1zM560 372h1v28h-1zM561 372h1v1h-1zM561 399h1v2h-1zM562 378h1v23h-1zM563 375h1v25h-1zM564 371h1v30h-1zM565 371h1v30h-1zM566 374h1v27h-1zM567 377h1v24h-1zM568 371h1v30h-1zM569 371h1v1h-1zM569 373h1v28h-1zM570 382h1v1h-1zM570 400h1v2h-1zM571 360h1v42h-1zM572 360h1v42h-1zM573 366h1v33h-1zM573 401h1v1h-1zM574 374h1v28h-1z"/>
<path fill="#000" d="M72 99H577v1H72zM72 163H577v1H72zM72 291H577v1H72zM72 355H577v1H72zM72 227h7v1h-7zM86 227h7v1h-7zM100 227h7v1h-7zM114 227h7v1h-7zM128 227h7v1h-7zM142 227h7v1h-7zM156 227h7v1h-7zM170 227h7v1h-7zM184 227h7v1h-7zM198 227h7v1h-7zM212 227h7v1h-7zM226 227h7v1h-7zM240 227h7v1h-7zM254 227h7v1h-7zM268 227h7v1h-7zM282 227h7v1h-7zM296 227h7v1h-7zM310 227h7v1h-7zM324 227h7v1h-7zM338 227h7v1h-7zM352 227h7v1h-7zM366 227h7v1h-7zM380 227h7v1h-7zM394 227h7v1h-7zM408 227h7v1h-7zM422 227h7v1h-7zM436 227h7v1h-7zM450 227h7v1h-7zM464 227h7v1h-7zM478 227h7v1h-7zM492 227h7v1h-7zM506 227h7v1h-7zM520 227h7v1h-7zM534 227h7v1h-7zM548 227h7v1h-7zM562 227h7v1h-7zM576 227h1v1h-1z"/>
<path fill="#fff" d="M240 35h1v1h-1zM240 419h1v1h-1zM408 35h1v1h-1zM408 419h1v1h-1z"/>
</g>
<g fill="#000">
<text class="t" x="32.23" y="24" font-size="16.9" textLength="61.45" lengthAdjust="spacingAndGlyphs">GOES13</text>
<text class="t" x="101.03" y="24" font-size="16.9" textLength="52.63" lengthAdjust="spacingAndGlyphs">Proton</text>
<text class="t" x="161.68" y="24" font-size="16.9" textLength="30.50" lengthAdjust="spacingAndGlyphs">Flux</text>
<text class="t" x="201.35" y="24" font-size="16.9" textLength="16.42" lengthAdjust="spacingAndGlyphs">(5</text>
<text class="t" x="226.32" y="24" font-size="16.9" textLength="53.47" lengthAdjust="spacingAndGlyphs">minute</text>
<text class="t" x="287.71" y="24" font-size="16.9" textLength="42.96" lengthAdjust="spacingAndGlyphs">data)</text>
<text class="t" x="428.77" y="29" font-size="15.5" textLength="42.60" lengthAdjust="spacingAndGlyphs">Begin:</text>
<text class="t" x="479.55" y="29" font-size="15.5" textLength="37.66" lengthAdjust="spacingAndGlyphs">2015</text>
<text class="t" x="524.45" y="29" font-size="15.5" textLength="20.63" lengthAdjust="spacingAndGlyphs">Jul</text>
<text class="t" x="551.92" y="29" font-size="15.5" textLength="9.64" lengthAdjust="spacingAndGlyphs">6</text>
<text class="t" x="568.16" y="29" font-size="15.5" textLength="36.48" lengthAdjust="spacingAndGlyphs">0000</text>
<text class="t" x="612.80" y="29" font-size="15.5" textLength="26.70" lengthAdjust="spacingAndGlyphs">UTC</text>
<text class="t" x="-0.24" y="475" font-size="15.5" textLength="60.78" lengthAdjust="spacingAndGlyphs">Updated</text>
<text class="t" x="67.17" y="475" font-size="15.5" textLength="36.51" lengthAdjust="spacingAndGlyphs">2015</text>
<text class="t" x="110.94" y="475" font-size="15.5" textLength="21.17" lengthAdjust="spacingAndGlyphs">Jul</text>
<text class="t" x="145.71" y="475" font-size="15.5" textLength="10.07" lengthAdjust="spacingAndGlyphs">8</text>
<text class="t" x="162.45" y="475" font-size="15.5" textLength="65.90" lengthAdjust="spacingAndGlyphs">23:56:02</text>
<text class="t" x="236.03" y="475" font-size="15.5" textLength="25.96" lengthAdjust="spacingAndGlyphs">UTC</text>
<text class="t" x="424.34" y="475" font-size="15.5" textLength="86.70" lengthAdjust="spacingAndGlyphs">NOAA/SWPC</text>
<text class="t" x="518.70" y="475" font-size="15.5" textLength="59.23" lengthAdjust="spacingAndGlyphs">Boulder,</text>
<text class="t" x="584.93" y="475" font-size="15.5" textLength="19.70" lengthAdjust="spacingAndGlyphs">CO</text>
<text class="t" x="612.80" y="475" font-size="15.5" textLength="26.73" lengthAdjust="spacingAndGlyphs">USA</text>
<text class="t" x="275.37" y="455" font-size="15.5" textLength="61.11" lengthAdjust="spacingAndGlyphs">Universal</text>
<text class="t" x="342.20" y="455" font-size="15.5" textLength="29.38" lengthAdjust="spacingAndGlyphs">Time</text>
<text class="t" x="55.37" y="439" font-size="15.5" textLength="18.49" lengthAdjust="spacingAndGlyphs">Jul</text>
<text class="t" x="79.73" y="439" font-size="15.5" textLength="9.52" lengthAdjust="spacingAndGlyphs">6</text>
<text class="t" x="223.37" y="439" font-size="15.5" textLength="18.49" lengthAdjust="spacingAndGlyphs">Jul</text>
<text class="t" x="247.71" y="439" font-size="15.5" textLength="9.66" lengthAdjust="spacingAndGlyphs">7</text>
<text class="t" x="391.37" y="439" font-size="15.5" textLength="18.49" lengthAdjust="spacingAndGlyphs">Jul</text>
<text class="t" x="415.87" y="439" font-size="15.5" textLength="9.36" lengthAdjust="spacingAndGlyphs">8</text>
<text class="t" x="559.37" y="439" font-size="15.5" textLength="18.49" lengthAdjust="spacingAndGlyphs">Jul</text>
<text class="t" x="583.80" y="439" font-size="15.5" textLength="9.51" lengthAdjust="spacingAndGlyphs">9</text>
<text class="t" x="43.62" y="46" font-size="16.9" textLength="20.08" lengthAdjust="spacingAndGlyphs">10</text>
<text x="62.77" y="40" font-size="7.99" textLength="5.52" lengthAdjust="spacingAndGlyphs">4</text>
<text class="t" x="43.62" y="106" font-size="16.9" textLength="20.08" lengthAdjust="spacingAndGlyphs">10</text>
<text x="62.60" y="98" font-size="7.99" textLength="5.87" lengthAdjust="spacingAndGlyphs">3</text>
<text class="t" x="43.62" y="170" font-size="16.9" textLength="20.08" lengthAdjust="spacingAndGlyphs">10</text>
<text x="62.45" y="162" font-size="7.99" textLength="6.10" lengthAdjust="spacingAndGlyphs">2</text>
<text class="t" x="43.62" y="234" font-size="16.9" textLength="20.08" lengthAdjust="spacingAndGlyphs">10</text>
<text x="62.12" y="226" font-size="7.99" textLength="6.45" lengthAdjust="spacingAndGlyphs">1</text>
<text class="t" x="43.62" y="298" font-size="16.9" textLength="20.08" lengthAdjust="spacingAndGlyphs">10</text>
<text x="62.59" y="290" font-size="7.99" textLength="5.82" lengthAdjust="spacingAndGlyphs">0</text>
<text class="t" x="37.62" y="362" font-size="16.9" textLength="20.08" lengthAdjust="spacingAndGlyphs">10</text>
<text x="57.57" y="354" font-size="7.99" textLength="9.85" lengthAdjust="spacingAndGlyphs">−1</text>
<text class="t" x="37.62" y="420" font-size="16.9" textLength="20.08" lengthAdjust="spacingAndGlyphs">10</text>
<text x="57.57" y="412" font-size="7.99" textLength="9.86" lengthAdjust="spacingAndGlyphs">−2</text>
<g transform="translate(20,334) rotate(-90)">
<text class="t" x="-1.68" y="0" font-size="17.0" textLength="78.42" lengthAdjust="spacingAndGlyphs">Particles</text>
<text class="t" x="87.12" y="0" font-size="17.0" textLength="27.76" lengthAdjust="spacingAndGlyphs">cm</text>
<text x="115.48" y="-10" font-size="7.99" textLength="12.05" lengthAdjust="spacingAndGlyphs">−2</text>
<text class="t" x="127.02" y="0" font-size="17.0" textLength="8.60" lengthAdjust="spacingAndGlyphs">s</text>
<text x="137.57" y="-10" font-size="7.99" textLength="9.85" lengthAdjust="spacingAndGlyphs">−1</text>
<text class="t" x="148.92" y="0" font-size="17.0" textLength="17.43" lengthAdjust="spacingAndGlyphs">sr</text>
<text x="166.53" y="-10" font-size="7.99" textLength="10.94" lengthAdjust="spacingAndGlyphs">−1</text>
</g>
<g transform="translate(623,214) rotate(-90)" fill="#ff2000">
<text class="t" x="-1.03" y="0" font-size="18.9" textLength="47.85" lengthAdjust="spacingAndGlyphs">&gt;=10</text>
</g>
<g transform="translate(623,142) rotate(-90)">
<text class="t" x="-1.29" y="0" font-size="18.9" textLength="32.36" lengthAdjust="spacingAndGlyphs">MeV</text>
</g>
<g transform="translate(623,310) rotate(-90)" fill="#0000ff">
<text class="t" x="-1.03" y="0" font-size="18.9" textLength="47.85" lengthAdjust="spacingAndGlyphs">&gt;=50</text>
</g>
<g transform="translate(623,406) rotate(-90)" fill="#00ff00">
<text class="t" x="-1.02" y="0" font-size="18.9" textLength="58.83" lengthAdjust="spacingAndGlyphs">&gt;=100</text>
</g>
</g>
</svg>
</body></html>
